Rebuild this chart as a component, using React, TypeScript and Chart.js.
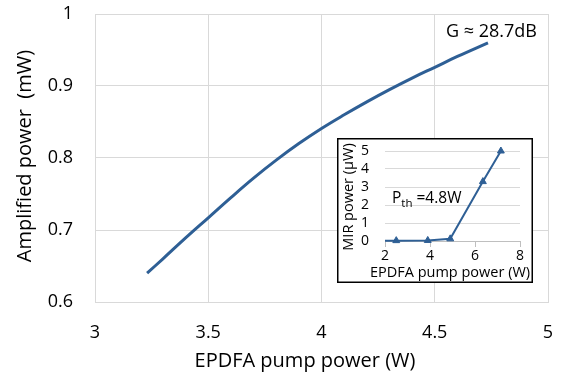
import React, { useEffect, useRef } from "react";
import { Chart, registerables } from "chart.js";

Chart.register(...registerables);

// Main chart data
const pumpPower = [3.23, 3.3, 3.4, 3.5, 3.6, 3.7, 3.8, 3.9, 4.0, 4.1, 4.2, 4.3, 4.4, 4.5, 4.6, 4.735];
const amplifiedPower = [0.640, 0.660, 0.689, 0.717, 0.745, 0.772, 0.797, 0.820, 0.841, 0.860, 0.878, 0.895, 0.911, 0.926, 0.941, 0.960];

// Inset data
const insetPump = [2.0, 2.5, 3.9, 4.9, 6.35, 7.15];
const insetMir = [0.02, 0.02, 0.03, 0.12, 3.3, 5.0];
const insetMarkerRadius = [0, 4, 4, 4, 4, 4];

const X_TITLE = "EPDFA pump power (W)";
const Y_TITLE = "Amplified power  (mW)";
const GAIN_LABEL = "G \u2248 28.7dB";
const INSET_X_TITLE = "EPDFA pump power (W)";
const INSET_Y_TITLE = "MIR power (\u00B5W)";

const LINE_COLOR = "#2e5f95";
const GRID_COLOR = "#d9d9d9";
const FONT = '"Open Sans"';

const fmt = (v: number) => String(Math.round(Number(v) * 100) / 100);

const mainTextPlugin = {
  id: "mainText",
  afterDraw(chart: any) {
    const ctx = chart.ctx;
    ctx.save();
    ctx.fillStyle = "#000";
    ctx.font = `20px ${FONT}`;
    ctx.textAlign = "center";
    ctx.textBaseline = "alphabetic";
    ctx.fillText(X_TITLE, 305, 367);
    ctx.save();
    ctx.translate(31, 156);
    ctx.rotate(-Math.PI / 2);
    ctx.fillText(Y_TITLE, 0, 0);
    ctx.restore();
    ctx.font = `18px ${FONT}`;
    ctx.textAlign = "left";
    ctx.fillText(GAIN_LABEL, 446, 37);
    ctx.restore();
  },
};

const insetPlugin = {
  id: "insetDeco",
  beforeDraw(chart: any) {
    const ctx = chart.ctx;
    ctx.save();
    ctx.fillStyle = "#fff";
    ctx.fillRect(0, 0, chart.width, chart.height);
    ctx.restore();
  },
  afterDraw(chart: any) {
    const ctx = chart.ctx;
    ctx.save();
    ctx.strokeStyle = "#000";
    ctx.lineWidth = 1.5;
    ctx.strokeRect(0.75, 0.75, chart.width - 1.5, chart.height - 1.5);
    ctx.fillStyle = "#000";
    ctx.textBaseline = "alphabetic";
    ctx.font = `14.5px ${FONT}`;
    ctx.textAlign = "center";
    ctx.fillText(INSET_X_TITLE, 113, 139);
    ctx.save();
    ctx.translate(16, 59);
    ctx.rotate(-Math.PI / 2);
    ctx.fillText(INSET_Y_TITLE, 0, 0);
    ctx.restore();
    // P_th label
    ctx.textAlign = "left";
    let x = 55;
    ctx.font = `15.5px ${FONT}`;
    ctx.fillText("P", x, 65);
    x += ctx.measureText("P").width;
    ctx.font = `11.5px ${FONT}`;
    ctx.fillText("th", x, 69);
    x += ctx.measureText("th").width;
    ctx.font = `15.5px ${FONT}`;
    ctx.fillText(" =4.8W", x, 65);
    ctx.restore();
  },
};

export default function App() {
  const mainRef = useRef<HTMLCanvasElement>(null);
  const insetRef = useRef<HTMLCanvasElement>(null);

  useEffect(() => {
    const main = new Chart(mainRef.current as HTMLCanvasElement, {
      type: "line",
      data: {
        datasets: [
          {
            data: pumpPower.map((x, i) => ({ x, y: amplifiedPower[i] })),
            borderColor: LINE_COLOR,
            borderWidth: 3,
            pointRadius: 0,
            tension: 0.4,
            fill: false,
          },
        ],
      },
      options: {
        animation: false,
        responsive: false,
        maintainAspectRatio: false,
        layout: { padding: { top: 14, right: 16, left: 0, bottom: 0 } },
        plugins: { legend: { display: false }, tooltip: { enabled: false } },
        scales: {
          x: {
            type: "linear",
            min: 3,
            max: 5,
            ticks: {
              stepSize: 0.5,
              color: "#000",
              font: { family: FONT, size: 18 },
              padding: 0,
              autoSkip: false,
              maxRotation: 0,
              callback: (v: any) => fmt(v),
            },
            grid: { color: GRID_COLOR, drawTicks: true, tickLength: 20, tickColor: "rgba(0,0,0,0)", lineWidth: 1 },
            border: { color: GRID_COLOR },
            afterFit: (s: any) => {
              s.height = 75;
            },
          },
          y: {
            type: "linear",
            min: 0.6,
            max: 1,
            ticks: {
              stepSize: 0.1,
              color: "#000",
              font: { family: FONT, size: 18 },
              padding: 0,
              autoSkip: false,
              callback: (v: any) => fmt(v),
            },
            grid: { color: GRID_COLOR, drawTicks: true, tickLength: 22, tickColor: "rgba(0,0,0,0)", lineWidth: 1 },
            border: { color: GRID_COLOR },
            afterFit: (s: any) => {
              s.width = 95;
            },
          },
        },
      },
      plugins: [mainTextPlugin],
    } as any);

    const inset = new Chart(insetRef.current as HTMLCanvasElement, {
      type: "line",
      data: {
        datasets: [
          {
            data: insetPump.map((x, i) => ({ x, y: insetMir[i] })),
            borderColor: LINE_COLOR,
            backgroundColor: LINE_COLOR,
            borderWidth: 2,
            pointStyle: "triangle",
            pointRadius: insetMarkerRadius,
            pointBorderWidth: 1,
            tension: 0,
            fill: false,
            clip: 8,
          },
        ],
      },
      options: {
        animation: false,
        responsive: false,
        maintainAspectRatio: false,
        layout: { padding: { top: 13, right: 13, left: 0, bottom: 0 } },
        plugins: { legend: { display: false }, tooltip: { enabled: false } },
        scales: {
          x: {
            type: "linear",
            min: 2,
            max: 8,
            ticks: {
              stepSize: 2,
              color: "#000",
              font: { family: FONT, size: 14 },
              padding: 1,
              autoSkip: false,
              maxRotation: 0,
              callback: (v: any) => fmt(v),
            },
            grid: { color: "#bfbfbf", drawOnChartArea: false, drawTicks: true, tickLength: 6 },
            border: { color: "#bfbfbf" },
            afterFit: (s: any) => {
              s.height = 42;
            },
          },
          y: {
            type: "linear",
            min: 0,
            max: 5,
            ticks: {
              stepSize: 1,
              color: "#000",
              font: { family: FONT, size: 14 },
              padding: 0,
              autoSkip: false,
              callback: (v: any) => fmt(v),
            },
            grid: { color: GRID_COLOR, drawTicks: true, tickLength: 16, tickColor: "rgba(0,0,0,0)" },
            border: { display: false },
            afterFit: (s: any) => {
              s.width = 48;
            },
          },
        },
      },
      plugins: [insetPlugin],
    } as any);

    return () => {
      main.destroy();
      inset.destroy();
    };
  }, []);

  return (
    <div style={{ position: "fixed", left: 0, top: 0, width: 564, height: 377, background: "#fff" }}>
      <canvas ref={mainRef} width={564} height={377} style={{ position: "absolute", left: 0, top: 0, width: 564, height: 377 }} />
      <canvas ref={insetRef} width={196} height={145} style={{ position: "absolute", left: 337, top: 138, width: 196, height: 145 }} />
    </div>
  );
}
